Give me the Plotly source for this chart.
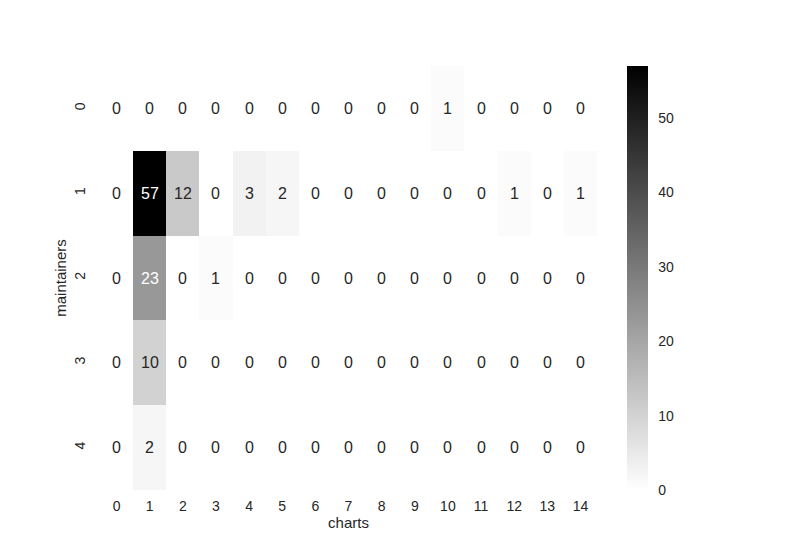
import plotly.graph_objects as go

charts = list(range(15))
maintainers = list(range(5))
row0 = [0, 0, 0, 0, 0, 0, 0, 0, 0, 0, 1, 0, 0, 0, 0]
row1 = [0, 57, 12, 0, 3, 2, 0, 0, 0, 0, 0, 0, 1, 0, 1]
row2 = [0, 23, 0, 1, 0, 0, 0, 0, 0, 0, 0, 0, 0, 0, 0]
row3 = [0, 10, 0, 0, 0, 0, 0, 0, 0, 0, 0, 0, 0, 0, 0]
row4 = [0, 2, 0, 0, 0, 0, 0, 0, 0, 0, 0, 0, 0, 0, 0]
z = [row0, row1, row2, row3, row4]

zmax = max(max(r) for r in z)
FONT = "Liberation Sans, Arial, sans-serif"
DARK = "#262626"

fig = go.Figure(go.Heatmap(
    z=z, x=charts, y=maintainers,
    zmin=0, zmax=zmax,
    colorscale=[[0, "#ffffff"], [1, "#000000"]],
    colorbar=dict(
        x=(627 - 100) / 497, xanchor="left", xref="paper", xpad=0,
        y=0, yanchor="bottom", len=1, lenmode="fraction", ypad=0,
        thickness=21, thicknessmode="pixels", outlinewidth=0,
        tickvals=[0, 10, 20, 30, 40, 50],
        ticks="outside", ticklen=8, tickcolor="rgba(0,0,0,0)",
        tickfont=dict(family=FONT, size=14, color=DARK),
    ),
    hoverongaps=False,
))

def lum(v):
    g = 1 - v / zmax
    c = ((g + 0.055) / 1.055) ** 2.4 if g > 0.04045 else g / 12.92
    return c

for i, row in enumerate(z):
    for j, v in enumerate(row):
        fig.add_annotation(
            x=charts[j], y=maintainers[i], text=str(v), showarrow=False,
            font=dict(family=FONT, size=16, color="white" if lum(v) < 0.408 else DARK),
        )

fig.update_layout(
    width=800, height=550,
    margin=dict(l=92, r=211, t=58, b=68),
    plot_bgcolor="white", paper_bgcolor="white",
    font=dict(family=FONT, color=DARK),
    xaxis=dict(
        tickvals=charts, ticktext=[str(c) for c in charts],
        showgrid=False, zeroline=False, showline=False,
        ticks="outside", ticklen=3, tickcolor="rgba(0,0,0,0)",
        tickfont=dict(size=14, color=DARK),
        title=dict(text="charts", font=dict(size=15, color=DARK), standoff=4),
    ),
    yaxis=dict(
        tickvals=maintainers, ticktext=[str(m) for m in maintainers],
        autorange="reversed", tickangle=-90,
        showgrid=False, zeroline=False, showline=False,
        ticks="outside", ticklen=8, tickcolor="rgba(0,0,0,0)",
        tickfont=dict(size=14, color=DARK),
        title=dict(text="maintainers", font=dict(size=15, color=DARK), standoff=2),
    ),
)

fig.write_html("out.html")
